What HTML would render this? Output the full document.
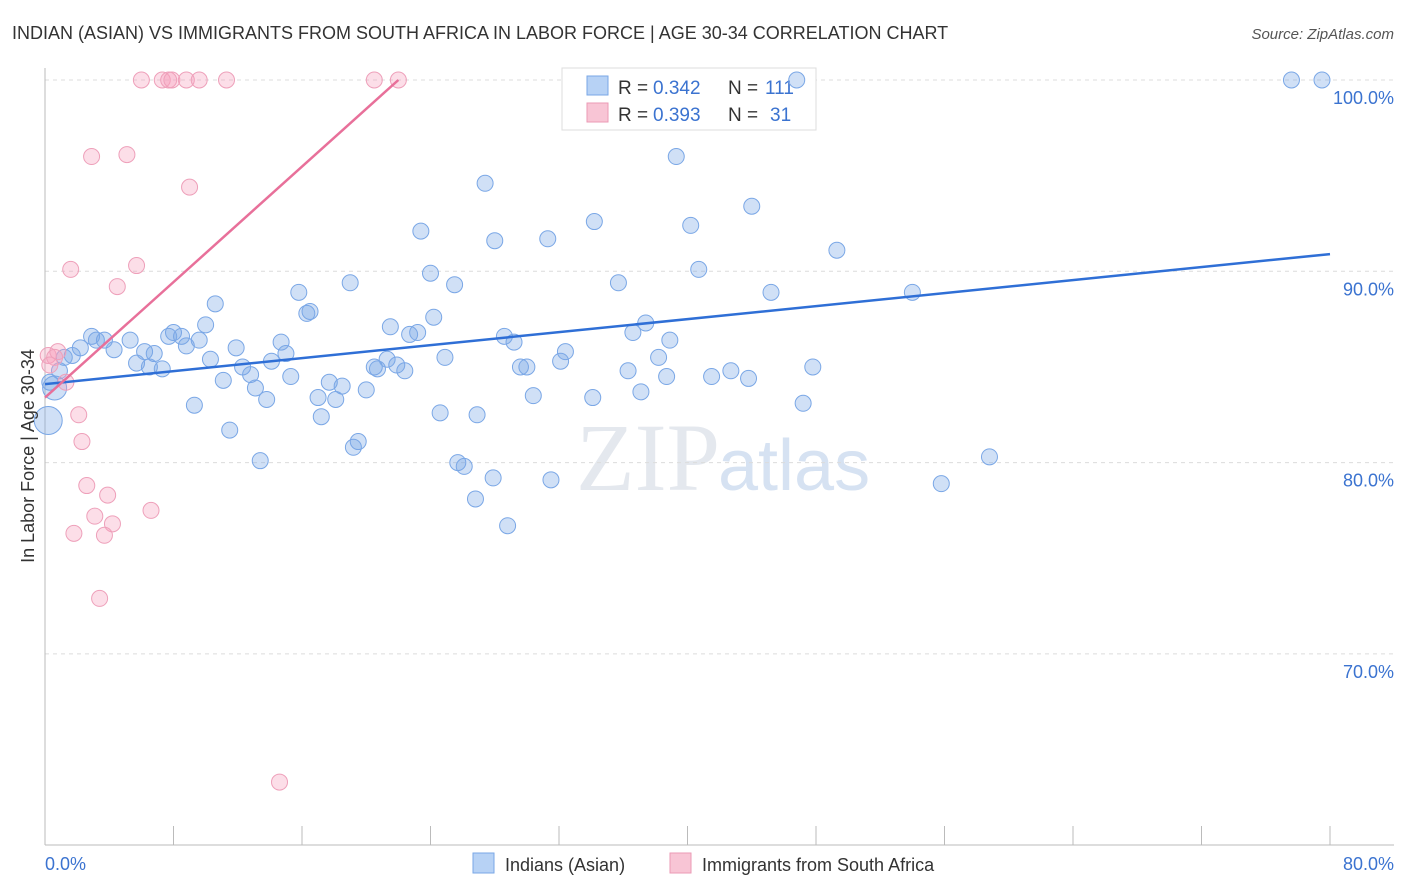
<!DOCTYPE html>
<html><head><meta charset="utf-8"><style>
body{margin:0;background:#fff;font-family:"Liberation Sans",sans-serif;}
svg{display:block}
</style></head><body>
<svg id="chart" width="1406" height="892">
<text x="12" y="39" font-size="18" fill="#333">INDIAN (ASIAN) VS IMMIGRANTS FROM SOUTH AFRICA IN LABOR FORCE | AGE 30-34 CORRELATION CHART</text>
<text x="1394" y="39" font-size="15" fill="#555" font-style="italic" text-anchor="end">Source: ZipAtlas.com</text>
<text x="720" y="490" font-size="96" fill="#e4e8ee" text-anchor="end" font-family="Liberation Serif,serif">ZIP</text>
<text x="718" y="490" font-size="72" fill="#d6e2f2">atlas</text>
<g id="grid"></g>
<g id="axes"></g>
<g>
<rect x="562" y="68" width="254" height="62" fill="#fff" stroke="#ddd"/>
<rect x="587" y="76" width="21" height="19" fill="#b7d2f5" stroke="#7aa7e6"/>
<rect x="587" y="103" width="21" height="19" fill="#f8c5d5" stroke="#eb9ab5"/>
<text x="618" y="94" font-size="19" fill="#333">R =</text>
<text x="653" y="94" font-size="19" fill="#3b73d0">0.342</text>
<text x="728" y="94" font-size="19" fill="#333">N =</text>
<text x="765" y="94" font-size="19" fill="#3b73d0">111</text>
<text x="618" y="121" font-size="19" fill="#333">R =</text>
<text x="653" y="121" font-size="19" fill="#3b73d0">0.393</text>
<text x="728" y="121" font-size="19" fill="#333">N =</text>
<text x="770" y="121" font-size="19" fill="#3b73d0">31</text>
</g>
<g id="pts"></g>
<g id="lines"></g>
<text transform="translate(34,456) rotate(-90)" font-size="18" fill="#333" text-anchor="middle">In Labor Force | Age 30-34</text>
<text x="45" y="870" font-size="18" fill="#3b73d0">0.0%</text>
<text x="1394" y="870" font-size="18" fill="#3b73d0" text-anchor="end">80.0%</text>
<rect x="473" y="853" width="21" height="20" fill="#b7d2f5" stroke="#7aa7e6"/>
<text x="505" y="871" font-size="18" fill="#333">Indians (Asian)</text>
<rect x="670" y="853" width="21" height="20" fill="#f8c5d5" stroke="#eb9ab5"/>
<text x="702" y="871" font-size="18" fill="#333">Immigrants from South Africa</text>
</svg>
<script>
const yTicks=[100,90,80,70];
const yTickLabels=["100.0%","90.0%","80.0%","70.0%"];
const xTicks=[0,8,16,24,32,40,48,56,64,72,80];
const blueX=[46.8,77.6,79.5,39.3,27.4,44.0,34.2,40.2,23.4,28.0,31.3,49.3,40.7,24.0,19.0,25.5,35.7,45.2,54.0,15.8,10.6,16.5,16.3,24.2,10.0,21.5,23.2,22.7,37.4,36.6,28.6,38.9,29.2,2.9,8.0,8.5,7.7,5.3,3.7,2.2,3.2,4.3,6.2,6.8,11.9,14.7,15.0,9.6,8.8,10.3,14.1,12.3,32.4,32.1,38.2,20.5,20.7,21.3,21.9,22.4,24.9,29.6,30.0,36.3,42.7,41.5,38.7,43.8,47.8,5.7,6.5,7.3,1.7,1.2,0.9,0.3,11.1,12.8,15.3,17.7,18.5,20.0,13.1,17.0,18.1,37.1,30.4,34.1,9.3,13.8,47.2,24.6,26.9,17.2,11.5,19.5,19.2,13.4,25.7,26.1,27.9,31.5,58.8,55.8,26.8,28.8,0.2,0.6];
const blueY=[100,100,100,96.0,94.6,93.4,92.6,92.4,92.1,91.6,91.7,91.1,90.1,89.9,89.4,89.3,89.4,88.9,88.9,88.9,88.3,87.9,87.8,87.6,87.2,87.1,86.8,86.7,87.3,86.8,86.6,86.4,86.3,86.6,86.8,86.6,86.6,86.4,86.4,86.0,86.4,85.9,85.8,85.7,86.0,86.3,85.7,86.4,86.1,85.4,85.3,85.0,85.8,85.3,85.5,85.0,84.9,85.4,85.1,84.8,85.5,85.0,85.0,84.8,84.8,84.5,84.5,84.4,85.0,85.2,85.0,84.9,85.6,85.5,84.8,84.2,84.3,84.6,84.5,84.2,84.0,83.8,83.9,83.4,83.3,83.7,83.5,83.4,83.0,83.3,83.1,82.6,82.5,82.4,81.7,81.1,80.8,80.1,80.0,79.8,79.2,79.1,80.3,78.9,78.1,76.7,82.2,83.9];
const blueR=[8,8,8,8,8,8,8,8,8,8,8,8,8,8,8,8,8,8,8,8,8,8,8,8,8,8,8,8,8,8,8,8,8,8,8,8,8,8,8,8,8,8,8,8,8,8,8,8,8,8,8,8,8,8,8,8,8,8,8,8,8,8,8,8,8,8,8,8,8,8,8,8,8,8,8,8,8,8,8,8,8,8,8,8,8,8,8,8,8,8,8,8,8,8,8,8,8,8,8,8,8,8,8,8,8,8,14,12];
const pinkX=[6.0,7.3,7.7,7.9,8.8,9.6,11.3,20.5,22.0,2.9,5.1,9.0,1.6,5.7,4.5,0.2,0.8,0.6,1.3,2.1,2.3,2.6,3.9,3.1,4.2,6.6,1.8,3.7,3.4,14.6,0.3];
const pinkY=[100,100,100,100,100,100,100,100,100,96.0,96.1,94.4,90.1,90.3,89.2,85.6,85.8,85.5,84.2,82.5,81.1,78.8,78.3,77.2,76.8,77.5,76.3,76.2,72.9,63.3,85.1];
const blueTrend=[84.1,90.9];
const pinkTrend=[83.4,100];
const pinkTrendX=[0,22];
const NS="http://www.w3.org/2000/svg";
const xs=v=>45+v*(1285/80);
const ys=v=>80+(100-v)*19.13;
function mk(tag,attrs,parent){const e=document.createElementNS(NS,tag);for(const k in attrs)e.setAttribute(k,attrs[k]);parent.appendChild(e);return e;}
const grid=document.getElementById('grid'),axes=document.getElementById('axes'),pts=document.getElementById('pts'),lines=document.getElementById('lines');
yTicks.forEach((t,i)=>{
 const l=mk('line',{x1:45,x2:1394,y1:ys(t),y2:ys(t),stroke:'#dcdcdc','stroke-dasharray':'4,4'},grid);
 
 
 const tx=mk('text',{x:1394,y:ys(t)+24,'font-size':18,fill:'#3b73d0','text-anchor':'end'},grid);
 tx.textContent=yTickLabels[i];
 
 
});
const ya=mk('line',{x1:45,x2:45,y1:68,y2:845,stroke:'#bbb'},axes);


const xa=mk('line',{x1:45,x2:1394,y1:845,y2:845,stroke:'#bbb'},axes);


xTicks.forEach(t=>{
 const l=mk('line',{x1:xs(t),x2:xs(t),y1:826,y2:845,stroke:'#bbb'},axes);
 
 
});
blueX.forEach((x,i)=>{
 const c=mk('circle',{cx:xs(x),cy:ys(blueY[i]),r:blueR[i],fill:'rgba(120,165,230,0.35)',stroke:'#7aa7e6','stroke-width':1},pts);
 
 
});
pinkX.forEach((x,i)=>{
 const c=mk('circle',{cx:xs(x),cy:ys(pinkY[i]),r:8,fill:'rgba(245,160,190,0.35)',stroke:'#eea0ba','stroke-width':1},pts);
 
 
});
const bl=mk('line',{x1:xs(0),y1:ys(blueTrend[0]),x2:xs(80),y2:ys(blueTrend[1]),stroke:'#2f6fd6','stroke-width':2.5},lines);


const pl=mk('line',{x1:xs(pinkTrendX[0]),y1:ys(pinkTrend[0]),x2:xs(pinkTrendX[1]),y2:ys(pinkTrend[1]),stroke:'#e8709a','stroke-width':2.5},lines);


</script>
</body></html>
